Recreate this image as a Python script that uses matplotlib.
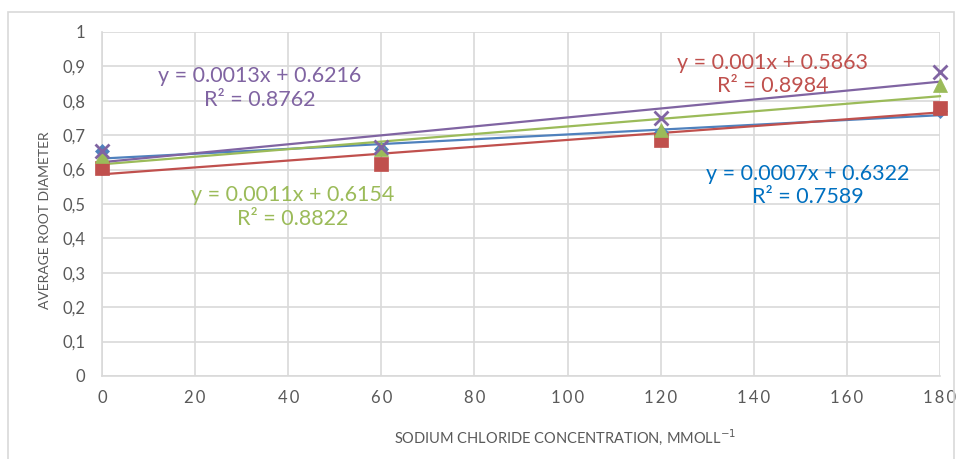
import matplotlib
matplotlib.use("Agg")
import matplotlib.pyplot as plt
from matplotlib.patches import Rectangle
import numpy as np

plt.rcParams['font.family'] = ['Lato', 'DejaVu Sans']

# NaCl concentration (mmol/l) and mean root diameter per variety
conc = [0, 60, 120, 180]
series_blue = [0.655, 0.66, 0.71, 0.77]
series_red = [0.605, 0.615, 0.685, 0.78]
series_green = [0.640, 0.660, 0.715, 0.845]
series_purple = [0.655, 0.665, 0.75, 0.885]

# linear trend lines: slope, intercept, R²
trend_blue = (0.0007, 0.6322, 0.7589)
trend_red = (0.001, 0.5863, 0.8984)
trend_green = (0.0011, 0.6154, 0.8822)
trend_purple = (0.0013, 0.6216, 0.8762)

x_ticks = [0, 20, 40, 60, 80, 100, 120, 140, 160, 180]
y_ticks = [0, 0.1, 0.2, 0.3, 0.4, 0.5, 0.6, 0.7, 0.8, 0.9, 1.0]

C_BLUE = '#4F81BD'
C_RED = '#C0504D'
C_GREEN = '#9BBB59'
C_PURPLE = '#8064A2'
C_TEXT_BLUE = '#0070C0'
GRID = '#D9D9D9'
LABEL = '#595959'

fig = plt.figure(figsize=(9.62, 4.59), dpi=100)
ax = fig.add_axes([102 / 962, 1 - 376 / 459, (940 - 102) / 962, (376 - 32) / 459])

# outer chart border
fig.patches.append(Rectangle((8 / 962, -0.02), 946 / 962, 1 - 12 / 459 + 0.02,
                             transform=fig.transFigure, fill=False,
                             edgecolor=GRID, linewidth=1.2))

xs = np.array([0, 180])
series = [
    (series_blue, trend_blue, C_BLUE, 'D', 7),
    (series_red, trend_red, C_RED, 's', 10),
    (series_green, trend_green, C_GREEN, '^', 10),
    (series_purple, trend_purple, C_PURPLE, 'x', 10),
]
for vals, (m, b, r2), col, mk, ms in series:
    ax.plot(conc, vals, linestyle='none', marker=mk, color=col, markersize=ms,
            markeredgewidth=2 if mk == 'x' else 0.5, clip_on=False, zorder=4)
for vals, (m, b, r2), col, mk, ms in series:
    ax.plot(xs, m * xs + b, color=col, linewidth=1.6, zorder=3, clip_on=False)

def eq_text(x, y, trend, col):
    m, b, r2 = trend
    ax.text(x, y, f"y = {m:g}x + {b:g}\nR² = {r2:g}", color=col, fontsize=15.5,
            ha='center', va='center', linespacing=1.2, zorder=5)

eq_text(33.9, 0.837, trend_purple, C_PURPLE)
eq_text(144.1, 0.876, trend_red, C_RED)
eq_text(151.6, 0.554, trend_blue, C_TEXT_BLUE)
eq_text(41.0, 0.491, trend_green, C_GREEN)

ax.set_xlim(0, 180)
ax.set_ylim(0, 1)
ax.set_xticks(x_ticks)
ax.set_yticks(y_ticks)
ax.set_xticklabels(['\u2009'.join(str(v)) for v in x_ticks], fontsize=12)
ax.set_yticklabels([f"{v:.1f}".replace('.', ',').replace('0,0', '0').replace('1,0', '1')
                    for v in y_ticks])
ax.tick_params(axis='both', length=0, colors=LABEL, labelsize=12)
ax.tick_params(axis='y', pad=12)
ax.tick_params(axis='x', pad=10)
ax.grid(True, color=GRID, linewidth=1.2)
ax.set_axisbelow(True)
for side in ['top', 'right']:
    ax.spines[side].set_visible(False)
for side in ['left', 'bottom']:
    ax.spines[side].set_color(GRID)
    ax.spines[side].set_linewidth(1.2)

fig.text(45 / 962, 1 - 220 / 459, 'AVERAGE ROOT DIAMETER', color=LABEL,
         fontsize=10, rotation=90, ha='center', va='center')
fig.text(565 / 962, 1 - 437 / 459, 'SODIUM CHLORIDE CONCENTRATION, MMOLL$^{-1}$',
         color=LABEL, fontsize=10.5, ha='center', va='center')

fig.savefig('out.png', dpi=100)
